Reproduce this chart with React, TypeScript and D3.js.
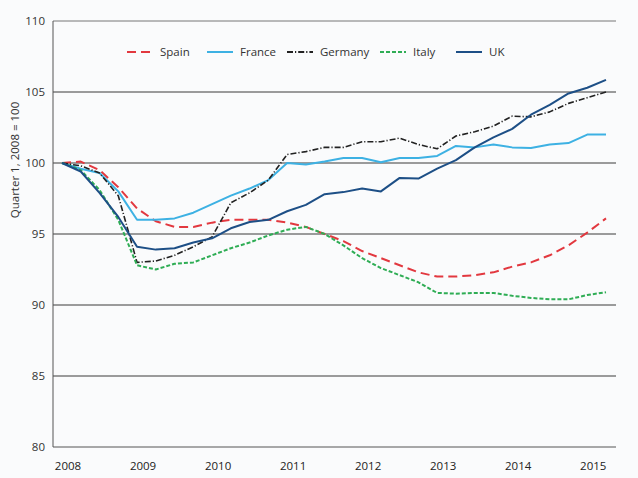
import React from "react";
import { scaleLinear, line } from "d3";

// quarterly index, 2008 Q1 .. 2015 Q2
const years = [2008, 2009, 2010, 2011, 2012, 2013, 2014, 2015];
const yTicks = [80, 85, 90, 95, 100, 105, 110];

const spain = [
  100, 100.1, 99.5, 98.3, 96.8, 95.9, 95.5, 95.5, 95.8, 96.0, 96.0, 96.0, 95.8,
  95.5, 95.0, 94.5, 93.8, 93.3, 92.8, 92.3, 92.0, 92.0, 92.1, 92.3, 92.7, 93.0,
  93.5, 94.2, 95.1, 96.1,
];
const france = [
  100, 99.6, 99.3, 98.0, 96.0, 96.0, 96.1, 96.5, 97.1, 97.7, 98.2, 98.8, 100.0,
  99.9, 100.1, 100.35, 100.35, 100.05, 100.35, 100.35, 100.5, 101.2, 101.1,
  101.3, 101.1, 101.05, 101.3, 101.4, 102.0, 102.0,
];
const germany = [
  100, 99.8, 99.3, 97.7, 93.0, 93.1, 93.5, 94.1, 94.8, 97.2, 97.9, 98.8, 100.6,
  100.8, 101.1, 101.1, 101.5, 101.5, 101.75, 101.3, 101.0, 101.9, 102.2, 102.6,
  103.3, 103.25, 103.6, 104.2, 104.6, 105.0,
];
const italy = [
  100, 99.5, 98.1, 96.0, 92.8, 92.5, 92.9, 93.0, 93.5, 94.0, 94.4, 94.9, 95.3,
  95.5, 95.0, 94.2, 93.3, 92.6, 92.1, 91.6, 90.85, 90.8, 90.85, 90.85, 90.65,
  90.5, 90.4, 90.4, 90.7, 90.9,
];
const uk = [
  100, 99.4, 97.9, 96.2, 94.1, 93.9, 94.0, 94.4, 94.7, 95.4, 95.85, 96.0, 96.6,
  97.05, 97.8, 97.95, 98.2, 98.0, 98.95, 98.9, 99.6, 100.2, 101.1, 101.8, 102.4,
  103.4, 104.1, 104.9, 105.3, 105.85,
];

const series = [
  { name: "Spain", values: spain, color: "#e2383f", dash: "9,5", width: 2 },
  { name: "France", values: france, color: "#3db1e3", dash: null, width: 2 },
  { name: "Germany", values: germany, color: "#222222", dash: "6,2,1.2,2", width: 1.6 },
  { name: "Italy", values: italy, color: "#2fad55", dash: "4,2", width: 2 },
  { name: "UK", values: uk, color: "#1d4f86", dash: null, width: 2 },
];

const W = 638;
const H = 478;
const plot = { left: 53, right: 616, top: 21, bottom: 447 };
const font = "'Open Sans', 'Noto Sans', sans-serif";

export default function App() {
  const x = scaleLinear().domain([0, 29]).range([62, 606]);
  const y = scaleLinear().domain([80, 110]).range([plot.bottom, plot.top]);
  const gen = line<number>()
    .x((_, i) => x(i))
    .y((d) => y(d));

  const legendX = [127, 207, 287, 380, 456];

  return (
    <svg
      width={W}
      height={H}
      style={{ position: "absolute", left: 0, top: 0, background: "#fafbfc" }}
    >
      {/* grid */}
      {yTicks.map((t) => (
        <g key={t}>
          {t > 80 && (
            <line
              x1={plot.left}
              x2={plot.right}
              y1={y(t)}
              y2={y(t)}
              stroke={t === 110 ? "#777" : "#3a3a3a"}
              strokeWidth={1}
            />
          )}
          <text
            x={45}
            y={y(t)}
            dy="0.35em"
            textAnchor="end"
            fontFamily={font}
            fontSize={11.5}
            fill="#333"
          >
            {t}
          </text>
        </g>
      ))}
      <line x1={plot.left} x2={plot.left} y1={plot.top} y2={plot.bottom} stroke="#555" />
      <line x1={plot.left} x2={plot.right} y1={plot.bottom} y2={plot.bottom} stroke="#555" />

      {years.map((yr, k) => (
        <text
          key={yr}
          x={x(k * 4) + 6}
          y={470}
          textAnchor="middle"
          fontFamily={font}
          fontSize={11.5}
          fill="#222"
        >
          {yr}
        </text>
      ))}

      <text
        transform={`translate(19,160) rotate(-90)`}
        textAnchor="middle"
        fontFamily={font}
        fontSize={11.5}
        fill="#333"
      >
        Quarter 1, 2008 = 100
      </text>

      {series.map((s) => (
        <path
          key={s.name}
          d={gen(s.values) || ""}
          fill="none"
          stroke={s.color}
          strokeWidth={s.width}
          strokeDasharray={s.dash || undefined}
          strokeLinejoin="round"
        />
      ))}

      {/* legend */}
      {series.map((s, i) => (
        <g key={s.name} transform={`translate(${legendX[i]},52)`}>
          <line
            x1={0}
            x2={26}
            y1={0}
            y2={0}
            stroke={s.color}
            strokeWidth={2}
            strokeDasharray={s.dash || undefined}
          />
          <text
            x={33}
            y={0}
            dy="0.35em"
            fontFamily={font}
            fontSize={11.5}
            fill="#333"
          >
            {s.name}
          </text>
        </g>
      ))}
    </svg>
  );
}
